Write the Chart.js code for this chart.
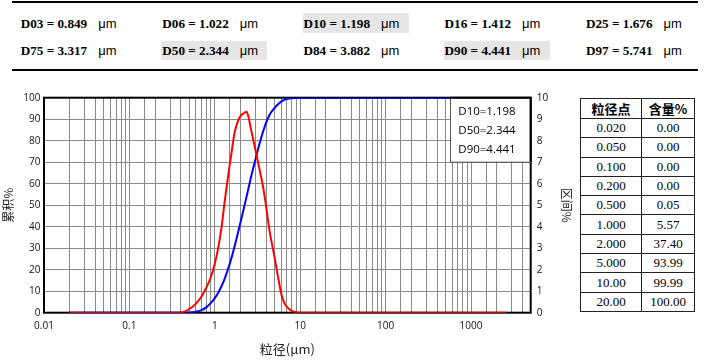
<!DOCTYPE html>
<html><head><meta charset="utf-8">
<script src="https://cdn.jsdelivr.net/npm/chart.js@4.4.1/dist/chart.umd.min.js"></script>
<style>
html,body{margin:0;padding:0;background:#fff;width:704px;height:360px;overflow:hidden;position:relative}
#cv{position:absolute;left:0;top:0}
.hl{position:absolute;background:#e6e6e6}
.dv{position:absolute;font:bold 13.2px "Liberation Serif";white-space:nowrap;line-height:16px;color:#000}
.um{position:absolute;font:13px "Liberation Sans";line-height:16px;color:#000}
.rule{position:absolute;left:12px;width:686px;height:2px;background:#000}
#tbl{position:absolute;left:580px;top:98px;border-collapse:collapse;font:13px "Liberation Serif";color:#000}
#tbl td{border:1px solid #222;text-align:center;padding:0;height:18.3px;line-height:18px}
#tbl th{border:1px solid #222;text-align:center;padding:0;font:bold 13px "Noto Sans CJK SC";height:19px;line-height:19px}
</style></head><body>
<div class="rule" style="top:1px"></div>
<div class="rule" style="top:69px"></div>
<div id="hdr"></div>
<canvas id="cv" width="575" height="360"></canvas>
<table id="tbl"></table>
<script>
// ---- data ----
const dLabels = ['D03','D06','D10','D16','D25','D75','D50','D84','D90','D97'];
const dValues = ['0.849','1.022','1.198','1.412','1.676','3.317','2.344','3.882','4.441','5.741'];
const dHighlight = ['D10','D50','D90'];
const legendLines = ['D10=1.198','D50=2.344','D90=4.441'];

const tableSizes = ['0.020','0.050','0.100','0.200','0.500','1.000','2.000','5.000','10.00','20.00'];
const tableContent = ['0.00','0.00','0.00','0.00','0.05','5.57','37.40','93.99','99.99','100.00'];

const xTickValues = [0.01, 0.1, 1, 10, 100, 1000];
const xTickLabels = ['0.01','0.1','1','10','100','1000'];

const sizes = [0.02,0.05,0.1,0.2,0.3,0.4,0.45,0.5,0.55,0.6,0.7,0.8,0.9,1.0,1.1,1.2,1.31,1.43,1.57,1.71,1.88,2.05,2.24,2.35,2.45,2.67,3.0,3.36,3.68,4.0,4.37,5.0,5.5,6.0,6.57,7.6,8.6,10,12,20,50,100,500,1000,2600];
const cumulative = [0,0,0,0,0,0,0.02,0.08,0.2,0.45,1.2,2.6,4.6,6.8,9.4,12.4,16.0,20.3,25.6,31.0,37.6,43.8,50.3,53.8,57.0,63.5,71.5,79.0,84.3,88.5,92.0,95.2,97.0,98.2,99.1,99.7,99.9,100,100,100,100,100,100,100,100];
const differential = [0,0,0,0,0,0.01,0.06,0.17,0.28,0.42,0.75,1.19,1.66,2.28,3.05,3.98,5.22,6.35,7.45,8.4,8.95,9.2,9.3,9.35,9.18,8.48,7.55,6.62,5.84,4.91,3.83,2.59,1.66,0.88,0.42,0.14,0.03,0,0,0,0,0,0,0,0];

// ---- header ----
const hdr = document.getElementById('hdr');
const colX = [20.7, 162.3, 303.5, 444.6, 586];
const rowY = [15.5, 42.5];
dLabels.forEach((lab, i) => {
  const c = i % 5, r = Math.floor(i / 5);
  const x = colX[c], y = rowY[r];
  if (dHighlight.includes(lab)) {
    const b = document.createElement('div');
    b.className = 'hl';
    b.style.left = (x - 1) + 'px'; b.style.top = (r === 0 ? 13 : 41) + 'px';
    b.style.width = '106px'; b.style.height = (r === 0 ? 20 : 19) + 'px';
    hdr.appendChild(b);
  }
  const t = document.createElement('div');
  t.className = 'dv'; t.style.left = x + 'px'; t.style.top = y + 'px';
  t.textContent = lab + ' = ' + dValues[i];
  hdr.appendChild(t);
  const u = document.createElement('div');
  u.className = 'um'; u.style.left = (x + 77.5) + 'px'; u.style.top = y + 'px';
  u.textContent = 'μm';
  hdr.appendChild(u);
});

// ---- table ----
const tbl = document.getElementById('tbl');
let html = '<tr><th style="width:60px">粒径点</th><th style="width:52px">含量%</th></tr>';
tableSizes.forEach((s, i) => { html += '<tr><td>' + s + '</td><td>' + tableContent[i] + '</td></tr>'; });
tbl.innerHTML = html;

// ---- chart ----
const frame = {
  id: 'frame',
  beforeDatasetsDraw(chart) {
    const {ctx, chartArea: a} = chart;
    ctx.save();
    ctx.strokeStyle = '#000'; ctx.lineWidth = 2;
    ctx.strokeRect(a.left, a.top, a.right - a.left, a.bottom - a.top);
    ctx.restore();
  },
  afterDatasetsDraw(chart) {
    const {ctx, chartArea: a} = chart;
    const w = 80.7, h = 64;
    ctx.save();
    ctx.fillStyle = '#fff';
    ctx.fillRect(a.right - w, a.top, w, h);
    ctx.strokeStyle = '#555'; ctx.lineWidth = 1;
    ctx.strokeRect(a.right - w + 0.5, a.top + 0.5, w - 1, h);
    ctx.strokeStyle = '#000'; ctx.lineWidth = 2;
    ctx.beginPath(); ctx.moveTo(a.right - w, a.top); ctx.lineTo(a.right, a.top); ctx.lineTo(a.right, a.top + h); ctx.stroke();
    ctx.fillStyle = '#000';
    ctx.font = '11.5px "Open Sans"';
    ctx.textBaseline = 'middle';
    legendLines.forEach((s, i) => ctx.fillText(s, a.right - w + 8.3, a.top + 14 + i * 19.2));
    ctx.restore();
  }
};

const tickFont = {family: 'Open Sans', size: 10};
new Chart(document.getElementById('cv'), {
  type: 'line',
  data: {
    datasets: [
      {label: '区间%', data: sizes.map((s, i) => ({x: s, y: differential[i]})), yAxisID: 'y2',
       borderColor: '#ff0000', borderWidth: 2, pointRadius: 0, cubicInterpolationMode: 'monotone', fill: false},
      {label: '累积%', data: sizes.map((s, i) => ({x: s, y: cumulative[i]})), yAxisID: 'y',
       borderColor: '#0000ff', borderWidth: 2, pointRadius: 0, cubicInterpolationMode: 'monotone', fill: false}
    ]
  },
  options: {
    responsive: false, animation: false,
    layout: {padding: {top: 97.7, left: 0, right: 0, bottom: 0}},
    plugins: {legend: {display: false}, tooltip: {enabled: false}},
    scales: {
      x: {
        type: 'logarithmic', min: 0.01, max: 5000,
        afterFit: s => { s.height = 47.3; },
        grid: {color: '#8a8a8a', lineWidth: 1, drawTicks: false},
        border: {display: false},
        ticks: {autoSkip: false, maxRotation: 0, padding: 7, color: '#111', font: tickFont,
          callback: v => { const i = xTickValues.findIndex(t => Math.abs(Math.log10(t) - Math.log10(v)) < 1e-6); return i >= 0 ? xTickLabels[i] : ''; }},
        title: {display: true, text: '粒径(μm)', color: '#222', font: {family: 'Noto Sans CJK SC', size: 13}, padding: {top: 0, bottom: 3}}
      },
      y: {
        position: 'left', min: 0, max: 100,
        afterFit: s => { s.width = 44; },
        grid: {color: '#8a8a8a', lineWidth: 1, drawTicks: false},
        border: {display: false},
        ticks: {stepSize: 10, padding: 3.5, color: '#111', font: tickFont},
        title: {display: true, text: '累积%', color: '#222', font: {family: 'Noto Sans CJK SC', size: 12}, padding: {top: 1, bottom: 0}}
      },
      y2: {
        position: 'right', min: 0, max: 10,
        afterFit: s => { s.width = 44.3; },
        grid: {drawOnChartArea: false, drawTicks: false},
        border: {display: false},
        ticks: {stepSize: 1, padding: 6, color: '#111', font: tickFont},
        title: {display: true, text: '区间%', color: '#222', font: {family: 'Noto Sans CJK SC', size: 12}, padding: {top: 1, bottom: 0}}
      }
    }
  },
  plugins: [frame]
});
</script>
</body></html>
